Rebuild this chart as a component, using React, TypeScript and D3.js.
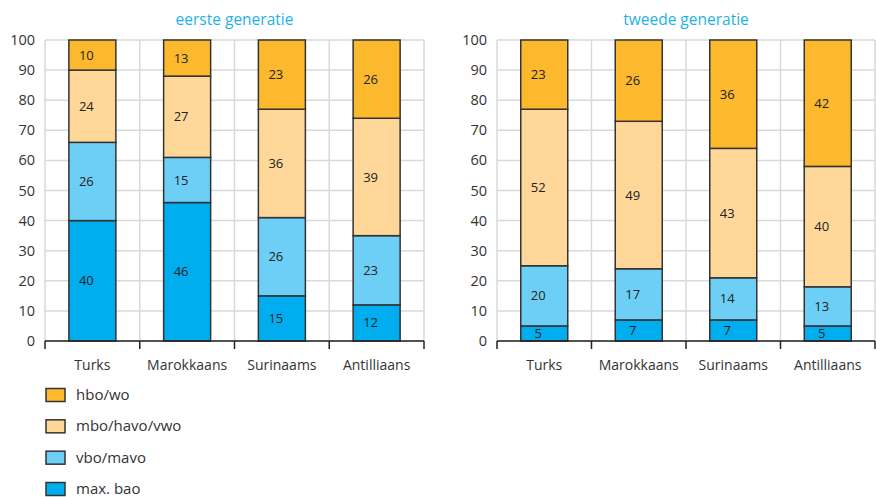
import React from "react";
import * as d3 from "d3";

const categories = ["Turks", "Marokkaans", "Surinaams", "Antilliaans"];
const seriesNames = ["max. bao", "vbo/mavo", "mbo/havo/vwo", "hbo/wo"];
const colors = ["#00aeef", "#6dcff6", "#ffd899", "#fdb92e"];
const legendOrder = ["hbo/wo", "mbo/havo/vwo", "vbo/mavo", "max. bao"];

// values per series, per category (bottom to top)
const eersteMaxBao = [40, 46, 15, 12];
const eersteVbo = [26, 15, 26, 23];
const eersteMbo = [24, 27, 36, 39];
const eersteHbo = [10, 13, 23, 26];

const tweedeMaxBao = [5, 7, 7, 5];
const tweedeVbo = [20, 17, 14, 13];
const tweedeMbo = [52, 49, 43, 40];
const tweedeHbo = [23, 26, 36, 42];

const yTicks = [0, 10, 20, 30, 40, 50, 60, 70, 80, 90, 100];

const FONT = "'Open Sans', 'Noto Sans', sans-serif";

type PanelProps = {
  title: string;
  data: number[][];
  x0: number;
  x1: number;
};

function Panel({ title, data, x0, x1 }: PanelProps) {
  const yTop = 40;
  const yBottom = 341;
  const x = d3.scaleBand<string>().domain(categories).range([x0, x1]);
  const y = d3.scaleLinear().domain([0, 100]).range([yBottom, yTop]);
  const barW = 47;
  const rows = categories.map((c, i) => {
    const r: any = { cat: c };
    seriesNames.forEach((s, k) => (r[s] = data[k][i]));
    return r;
  });
  const stack = d3.stack<any>().keys(seriesNames)(rows);
  const last = seriesNames.length - 1;
  const boundaries = [x0, ...categories.map((c) => (x(c) as number) + x.bandwidth())];
  return (
    <g>
      <text
        x={(x0 + x1) / 2}
        y={25}
        textAnchor="middle"
        fontSize={15.5}
        fill="#1fb1ec"
        fontFamily={FONT}
      >
        {title}
      </text>
      {yTicks.map((t) => (
        <line key={"h" + t} x1={x0} x2={x1} y1={y(t)} y2={y(t)} stroke="#d9d9d9" strokeWidth={1.5} />
      ))}
      {boundaries.map((b, i) => (
        <line key={"v" + i} x1={b} x2={b} y1={yTop} y2={yBottom} stroke="#d9d9d9" strokeWidth={1.5} />
      ))}
      {yTicks.map((t) => (
        <text
          key={"yl" + t}
          x={x0 - 10}
          y={y(t)}
          dy="0.35em"
          textAnchor="end"
          fontSize={14.5}
          fill="#333"
          fontFamily={FONT}
        >
          {t}
        </text>
      ))}
      {stack.map((layer, k) =>
        layer.map((d, i) => {
          const cx = (x(categories[i]) as number) + x.bandwidth() / 2;
          const yy0 = y(d[0]);
          const yy1 = k === last ? y(100) : y(d[1]);
          return (
            <g key={k + "-" + i}>
              <rect
                x={cx - barW / 2}
                y={yy1}
                width={barW}
                height={yy0 - yy1}
                fill={colors[k]}
                stroke="#333"
                strokeWidth={1.5}
              />
              <text
                x={cx - 6}
                y={(yy0 + yy1) / 2}
                dy="0.35em"
                textAnchor="middle"
                fontSize={13}
                fill="#222"
                fontFamily={FONT}
              >
                {data[k][i]}
              </text>
            </g>
          );
        })
      )}
      <line x1={x0} x2={x1} y1={yBottom} y2={yBottom} stroke="#222" strokeWidth={1.5} />
      {boundaries.map((b, i) => (
        <line key={"t" + i} x1={b} x2={b} y1={yBottom} y2={yBottom + 8} stroke="#222" strokeWidth={1.5} />
      ))}
      {categories.map((c) => (
        <text
          key={"xl" + c}
          x={(x(c) as number) + x.bandwidth() / 2}
          y={370}
          textAnchor="middle"
          fontSize={14}
          fill="#333"
          fontFamily={FONT}
        >
          {c}
        </text>
      ))}
    </g>
  );
}

export default function App() {
  const legendY = d3.scalePoint<string>().domain(legendOrder).range([395, 489]);
  return (
    <svg
      width={876}
      height={497}
      style={{ position: "absolute", left: 0, top: 0, background: "#fff" }}
    >
      <Panel
        title="eerste generatie"
        data={[eersteMaxBao, eersteVbo, eersteMbo, eersteHbo]}
        x0={45}
        x1={424}
      />
      <Panel
        title="tweede generatie"
        data={[tweedeMaxBao, tweedeVbo, tweedeMbo, tweedeHbo]}
        x0={497}
        x1={875}
      />
      {legendOrder.map((name) => {
        const k = seriesNames.indexOf(name);
        const cy = legendY(name) as number;
        return (
          <g key={name}>
            <rect x={46} y={cy - 6.5} width={19} height={13} fill={colors[k]} stroke="#333" strokeWidth={1.5} />
            <text x={76} y={cy} dy="0.33em" fontSize={15} fill="#333" fontFamily={FONT}>
              {name}
            </text>
          </g>
        );
      })}
    </svg>
  );
}
